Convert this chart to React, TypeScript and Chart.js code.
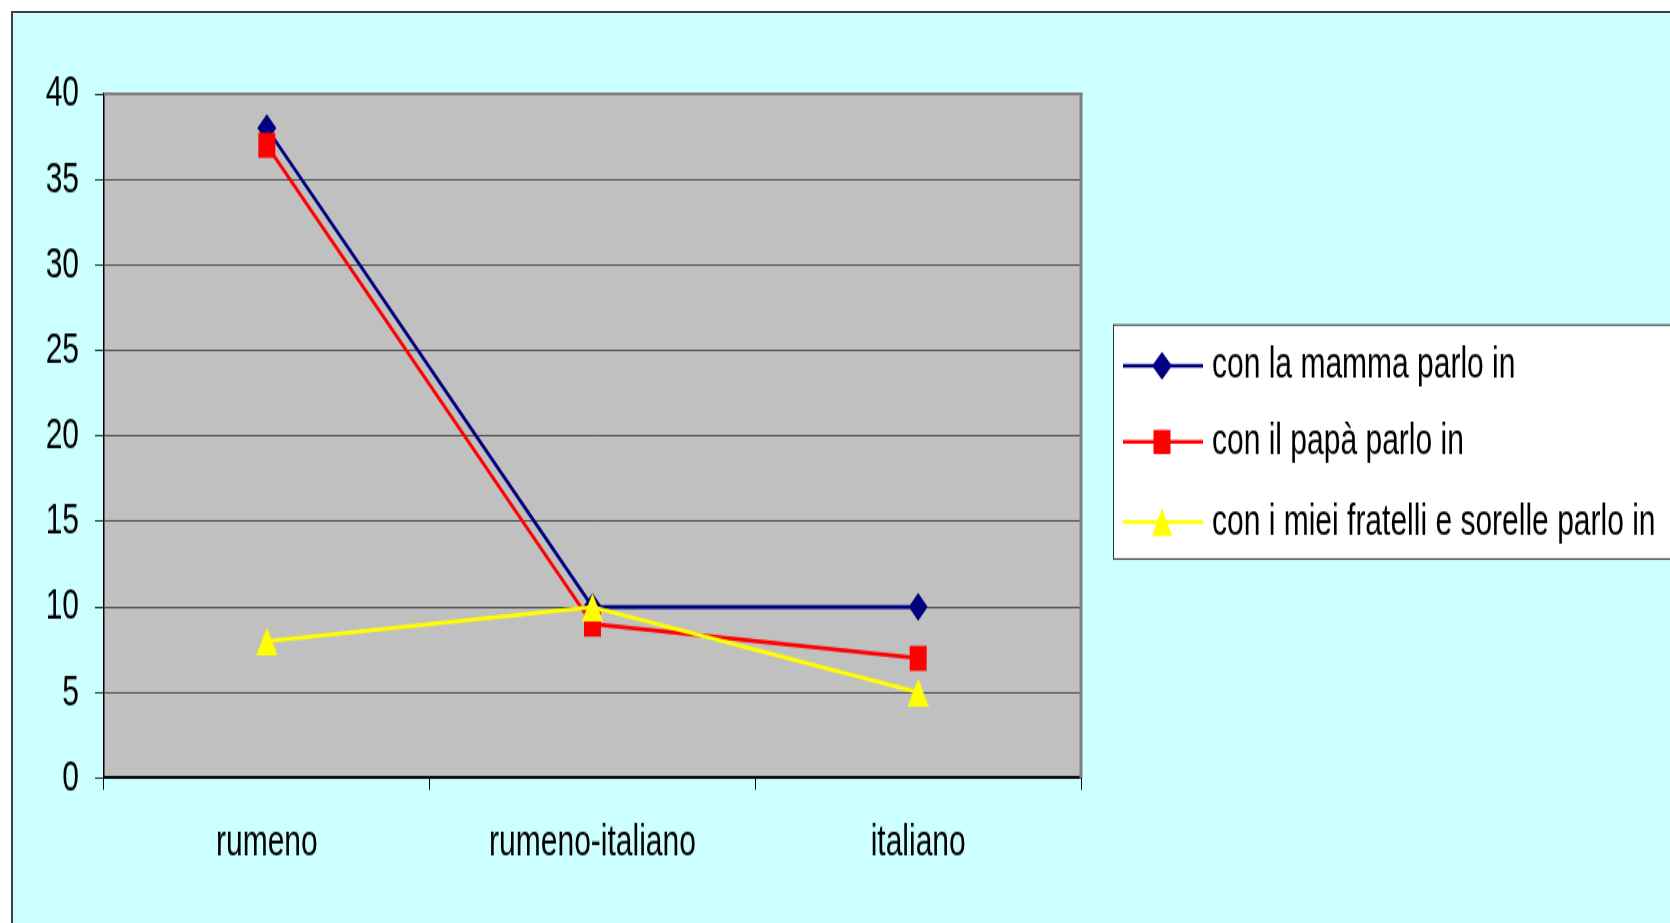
import React, { useEffect, useRef } from 'react';
import { Chart, registerables } from 'chart.js';

Chart.register(...registerables);

// Categories and series
const categories = ['rumeno', 'rumeno-italiano', 'italiano'];
const seriesLabels = [
  'con la mamma parlo in',
  'con il papà parlo in',
  'con i miei fratelli e sorelle parlo in',
];
const mammaValues = [38, 10, 10];
const papaValues = [37, 9, 7];
const fratelliValues = [8, 10, 5];

// Value axis
const yMin = 0;
const yMax = 40;
const yStep = 5;

// The drawing is rendered on a short canvas and stretched vertically by CSS,
// which gives the tall, narrow lettering and markers of the original sheet.
const CANVAS_W = 1700;
const CANVAS_H = 632;
const CSS_H = 929;

const FONT = "'Liberation Sans', Arial, sans-serif";
const NAVY = '#000080';
const RED = '#FF0000';
const YELLOW = '#FFFF00';

const PLOT_LEFT = 91;
const PLOT_RIGHT = 1068;
const PLOT_TOP = 55.1;
const PLOT_BOTTOM = 520.4;

const LEGEND_X = 1100;
const LEGEND_TOP = 212.2;
const LEGEND_BOTTOM = 371.4;
const LEGEND_ROWS = [240.1, 291.8, 346.3];
const LEGEND_LINE_X0 = 1110;
const LEGEND_LINE_X1 = 1190;
const LEGEND_MARK_X = 1149;
const LEGEND_TEXT_X = 1199;

function makeTriangle(w: number, h: number, color: string): HTMLCanvasElement {
  const c = document.createElement('canvas');
  c.width = w;
  c.height = h;
  const g = c.getContext('2d')!;
  g.fillStyle = color;
  g.beginPath();
  g.moveTo(w / 2, 0);
  g.lineTo(w, h);
  g.lineTo(0, h);
  g.closePath();
  g.fill();
  return c;
}

const backdrop = {
  id: 'backdrop',
  beforeDraw(chart: any) {
    const { ctx, chartArea: a, width, height } = chart;
    ctx.save();
    ctx.fillStyle = '#CCFFFF';
    ctx.fillRect(0, 0, width, height);
    ctx.fillStyle = '#C0C0C0';
    ctx.fillRect(a.left, a.top, a.right - a.left, a.bottom - a.top);
    ctx.restore();
  },
  beforeDatasetsDraw(chart: any) {
    const { ctx, chartArea: a } = chart;
    ctx.save();
    ctx.strokeStyle = '#808080';
    ctx.lineWidth = 2;
    ctx.beginPath();
    ctx.moveTo(a.left, a.top);
    ctx.lineTo(a.right + 1.5, a.top);
    ctx.stroke();
    ctx.lineWidth = 3;
    ctx.beginPath();
    ctx.moveTo(a.right, a.top);
    ctx.lineTo(a.right, a.bottom);
    ctx.stroke();
    ctx.restore();
  },
};

function drawMarker(ctx: CanvasRenderingContext2D, kind: string, x: number, y: number, color: string) {
  ctx.fillStyle = color;
  ctx.beginPath();
  if (kind === 'diamond') {
    ctx.moveTo(x, y - 9.5);
    ctx.lineTo(x + 10, y);
    ctx.lineTo(x, y + 9.5);
    ctx.lineTo(x - 10, y);
  } else if (kind === 'square') {
    ctx.rect(x - 8.5, y - 8.2, 17, 16.4);
  } else {
    ctx.moveTo(x, y - 9.5);
    ctx.lineTo(x + 10, y + 9.5);
    ctx.lineTo(x - 10, y + 9.5);
  }
  ctx.closePath();
  ctx.fill();
}

const boxLegend = {
  id: 'boxLegend',
  afterDraw(chart: any) {
    const { ctx } = chart;
    const kinds = ['diamond', 'square', 'triangle'];
    ctx.save();
    ctx.fillStyle = '#FFFFFF';
    ctx.fillRect(LEGEND_X, LEGEND_TOP, CANVAS_W - LEGEND_X, LEGEND_BOTTOM - LEGEND_TOP);
    ctx.strokeStyle = '#303030';
    ctx.lineWidth = 1;
    ctx.strokeRect(LEGEND_X + 0.5, LEGEND_TOP, CANVAS_W, LEGEND_BOTTOM - LEGEND_TOP);
    chart.data.datasets.forEach((ds: any, i: number) => {
      const cy = LEGEND_ROWS[i];
      ctx.strokeStyle = ds.borderColor;
      ctx.lineWidth = 2.5;
      ctx.beginPath();
      ctx.moveTo(LEGEND_LINE_X0, cy);
      ctx.lineTo(LEGEND_LINE_X1, cy);
      ctx.stroke();
      drawMarker(ctx, kinds[i], LEGEND_MARK_X, cy, ds.borderColor);
      ctx.fillStyle = '#000000';
      ctx.font = `30px ${FONT}`;
      ctx.textBaseline = 'middle';
      ctx.textAlign = 'left';
      ctx.fillText(ds.label, LEGEND_TEXT_X, cy);
    });
    ctx.restore();
  },
};

export default function App() {
  const ref = useRef<HTMLCanvasElement>(null);

  useEffect(() => {
    if (!ref.current) return;
    const triangle = makeTriangle(21, 19, YELLOW);
    const chart = new Chart(ref.current, {
      type: 'line',
      data: {
        labels: categories,
        datasets: [
          {
            label: seriesLabels[0],
            data: mammaValues,
            borderColor: NAVY,
            backgroundColor: NAVY,
            borderWidth: 2.8,
            pointStyle: 'rectRot',
            pointRadius: 9.5,
            pointBorderWidth: 0,
            pointBackgroundColor: NAVY,
            tension: 0,
            order: 2,
          },
          {
            label: seriesLabels[1],
            data: papaValues,
            borderColor: RED,
            backgroundColor: RED,
            borderWidth: 2.8,
            pointStyle: 'rect',
            pointRadius: 12,
            pointBorderWidth: 0,
            pointBackgroundColor: RED,
            tension: 0,
            order: 1,
          },
          {
            label: seriesLabels[2],
            data: fratelliValues,
            borderColor: YELLOW,
            backgroundColor: YELLOW,
            borderWidth: 2.8,
            pointStyle: triangle,
            pointRadius: 12,
            pointBorderWidth: 0,
            pointBackgroundColor: YELLOW,
            tension: 0,
            order: 0,
          },
        ],
      },
      options: {
        animation: false,
        responsive: false,
        devicePixelRatio: 1,
        events: [],
        layout: {
          padding: { top: PLOT_TOP, right: CANVAS_W - PLOT_RIGHT, bottom: 0, left: 0 },
        },
        plugins: {
          legend: { display: false },
          tooltip: { enabled: false },
          title: { display: false },
        },
        scales: {
          x: {
            type: 'category',
            offset: true,
            grid: {
              offset: true,
              drawOnChartArea: false,
              drawTicks: true,
              tickLength: 8,
              color: '#000000',
              lineWidth: 1,
            },
            border: { display: true, color: '#000000', width: 2 },
            ticks: {
              color: '#000000',
              font: { family: FONT, size: 30 },
              padding: 18.5,
              maxRotation: 0,
              autoSkip: false,
            },
            afterFit(scale: any) {
              scale.height = CANVAS_H - PLOT_BOTTOM;
            },
          },
          y: {
            min: yMin,
            max: yMax,
            ticks: {
              stepSize: yStep,
              color: '#000000',
              font: { family: FONT, size: 30 },
              padding: 16,
            },
            grid: {
              color: '#303030',
              lineWidth: 0.8,
              drawTicks: true,
              tickLength: 9,
              tickColor: '#000000',
            },
            border: { display: true, color: '#000000', width: 1.5 },
            afterFit(scale: any) {
              scale.width = PLOT_LEFT;
            },
          },
        },
      },
      plugins: [backdrop, boxLegend],
    });
    return () => chart.destroy();
  }, []);

  return (
    <div
      style={{
        position: 'fixed',
        left: 0,
        top: 0,
        width: 1670,
        height: 923,
        overflow: 'hidden',
        background: '#FFFFFF',
      }}
    >
      <div
        style={{
          position: 'absolute',
          left: 11,
          top: 11,
          width: CANVAS_W,
          height: CSS_H,
          borderLeft: '2px solid #404040',
          borderTop: '2px solid #404040',
          background: '#CCFFFF',
        }}
      >
        <canvas
          ref={ref}
          width={CANVAS_W}
          height={CANVAS_H}
          style={{ width: `${CANVAS_W}px`, height: `${CSS_H}px`, display: 'block' }}
        />
      </div>
    </div>
  );
}
